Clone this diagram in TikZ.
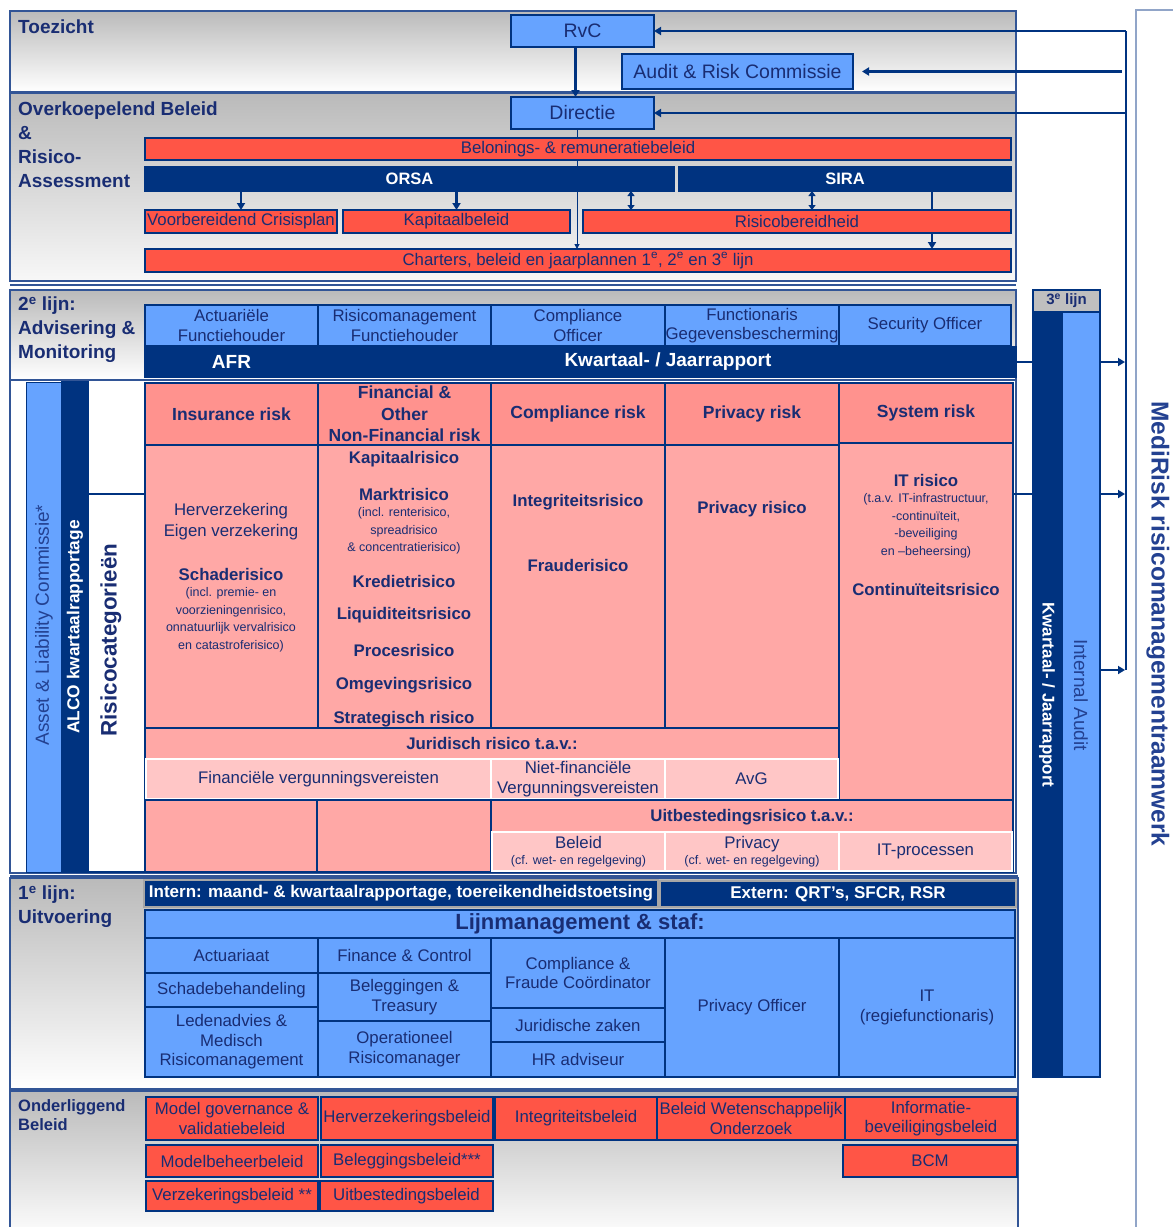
\documentclass[tikz,border=0pt]{standalone}
\usepackage{fontspec}
\setmainfont{Liberation Sans}
\usetikzlibrary{arrows.meta}
\definecolor{navy}{RGB}{0,51,128}
\definecolor{blu}{RGB}{102,163,255}
\definecolor{redc}{RGB}{255,85,70}
\definecolor{salmon}{RGB}{255,146,142}
\definecolor{pinkc}{RGB}{255,168,166}
\definecolor{lpink}{RGB}{255,198,198}
\definecolor{txt}{RGB}{25,45,115}
\definecolor{rtxt}{RGB}{35,65,145}
\definecolor{secl}{RGB}{50,85,150}
\definecolor{framec}{RGB}{145,165,200}
\newcommand\fReg{\fontsize{16.8}{19.5}\selectfont}
\newcommand\fSml{\fontsize{12.5}{17.5}\selectfont}
\newcommand\fBld{\bfseries\fontsize{16.8}{21}\selectfont}
\newcommand\fHdr{\bfseries\fontsize{17.5}{21.5}\selectfont}
\newcommand\fSec{\bfseries\fontsize{19}{24}\selectfont}
\newcommand\fSecS{\bfseries\fontsize{16.5}{19}\selectfont}
\newcommand\fBig{\fontsize{19.5}{22}\selectfont}
\newcommand\fBigB{\bfseries\fontsize{19}{22}\selectfont}
\newcommand\fLijn{\bfseries\fontsize{22}{24}\selectfont}
\newcommand\fBar{\bfseries\fontsize{17}{19}\selectfont}
\newcommand\bx[7]{\node[#1,minimum width={#5-#3},minimum height={#6-#4}] (#2) at ({(#3+#5)/2},{(#4+#6)/2}) {#7};}
\tikzset{
 base/.style={draw=navy, line width=1.1pt, inner sep=0pt, outer sep=0pt, align=center, text=txt, font=\fReg},
 redb/.style={base, fill=redc},
 blueb/.style={base, fill=blu},
 navyb/.style={base, fill=navy, text=white, font=\fBar},
 hdr/.style={base, fill=salmon, font=\fHdr},
 cell/.style={base, fill=pinkc},
 subc/.style={draw=white, line width=1.5pt, fill=lpink, inner sep=0pt, outer sep=0pt, align=center, text=txt, font=\fReg},
 lbl/.style={anchor=north west, align=left, text=txt, font=\fSec, inner sep=0pt},
 ct/.style={text=txt, inner sep=0pt, align=center},
 arr/.style={draw=navy, line width=2.2pt, -{Triangle[length=7pt,width=8pt]}},
 dbl/.style={draw=navy, line width=2pt, {Triangle[length=5pt,width=7pt]}-{Triangle[length=5pt,width=7pt]}},
 thinarr/.style={draw=navy, line width=1pt, -{Triangle[length=5pt,width=5pt]}},
 sect/.style={draw=secl, line width=1.3pt},
}
\begin{document}
\begin{tikzpicture}[x=1pt,y=-1pt]
\useasboundingbox (0,0) rectangle (1173,1227);
\fill[white] (0,0) rectangle (1173,1227);
% ---------- section backgrounds ----------
\shade[top color=black!27, bottom color=white] (10,11) rectangle (1016,92);
\draw[sect] (10,11) rectangle (1016,92);
\shade[top color=black!27, bottom color=black!3] (10,93) rectangle (1016,281);
\draw[sect] (10,93) rectangle (1016,281);
\draw[sect] (10,285) -- (1016,285);
\shade[top color=black!27, bottom color=white] (10,290) rectangle (1016,380);
\draw[sect] (10,290) rectangle (1016,380);
\draw[sect, fill=white] (10,380) rectangle (1016,873);
\draw[sect] (10,876) -- (1018,876);
\shade[top color=black!27, bottom color=white] (10,878) rectangle (1018,1089);
\draw[sect] (10,878) rectangle (1018,1089);
\shade[top color=black!27, bottom color=white] (10,1091) rectangle (1018,1240);
\draw[sect] (10,1240) -- (10,1091) -- (1018,1091) -- (1018,1240);
% MediRisk frame
\draw[framec, line width=2pt] (1136,1240) -- (1136,10) -- (1180,10);
\node[rotate=-90, text=rtxt, font=\bfseries\fontsize{24.5}{26}\selectfont, inner sep=0pt] (medi) at (1158,624) {MediRisk risicomanagementraamwerk};
% ---------- section labels ----------
\node[lbl] (lToe) at (18,20) {Toezicht};
\node[lbl] (lOver) at (18,102) {Overkoepelend Beleid\\\&\\Risico-\\Assessment};
\node[lbl] (l2) at (18,297) {2\textsuperscript{e} lijn:\\Advisering \&\\Monitoring};
\node[lbl] (l1) at (18,886) {1\textsuperscript{e} lijn:\\Uitvoering};
\node[lbl, font=\fSecS] (lOnd) at (18,1099) {Onderliggend\\Beleid};
% ---------- connectors behind boxes ----------
\coordinate (dx) at (577,129);
\coordinate (c631) at (631,0);
\coordinate (c812) at (812,0);
\coordinate (c932) at (932,0);
% ---------- top boxes ----------
\bx{blueb,font=\fBig}{rvc}{511}{15}{654}{47}{RvC}
\bx{blueb,font=\fBig}{arc}{622}{54}{853}{89}{Audit \& Risk Commissie}
\bx{blueb,font=\fBig}{dir}{511}{97}{654}{129}{Directie}
\draw[thinarr] (dx) -- (dx |- 0,249);
\bx{redb}{bel}{145}{138}{1011}{160}{Belonings- \& remuneratiebeleid}
\bx{navyb,font=\bfseries\fontsize{16.5}{18}\selectfont}{orsa}{145}{167}{674}{191}{ORSA}
\bx{navyb,font=\bfseries\fontsize{16.5}{18}\selectfont}{sira}{679}{167}{1011}{191}{SIRA}
\bx{redb}{vcp}{145}{210}{337}{233}{Voorbereidend Crisisplan}
\bx{redb}{kap}{343}{210}{570}{233}{Kapitaalbeleid}
\bx{redb}{rb}{583}{210}{1011}{233}{Risicobereidheid}
\bx{redb}{ch}{145}{249}{1011}{272}{Charters, beleid en jaarplannen 1\textsuperscript{e}, 2\textsuperscript{e} en 3\textsuperscript{e} lijn}
\draw[arr] ([xshift=-7pt]rvc.south) -- ([xshift=-7pt]dir.north);
\draw[arr] (orsa.south -| vcp.north) -- (vcp.north);
\draw[arr] (orsa.south -| kap.north) -- (kap.north);
\draw[dbl] (orsa.south -| c631) -- (rb.north -| c631);
\draw[dbl] (sira.south -| c812) -- (rb.north -| c812);
\draw[navy, line width=2.2pt] (sira.south -| c932) -- (rb.north -| c932);
\draw[arr] (rb.south -| c932) -- (ch.north -| c932);
% ---------- 2e lijn ----------
\bx{blueb}{afh}{145}{305}{318}{346}{Actuariële\\Functiehouder}
\bx{blueb}{rfh}{318}{305}{491}{346}{Risicomanagement\\Functiehouder}
\bx{blueb}{co}{491}{305}{665}{346}{Compliance\\Officer}
\bx{blueb}{fg}{665}{305}{839}{346}{Functionaris\\Gegevensbescherming}
\bx{blueb}{so}{839}{305}{1011}{346}{Security Officer}
\bx{navyb,font=\fBigB}{afr}{145}{347}{318}{377}{AFR}
\bx{navyb,font=\fBigB}{kjr}{320}{347}{1016}{377}{Kwartaal- / Jaarrapport}
% ---------- risk area ----------
\bx{base,fill=blu,line width=0.8pt}{alc}{26}{382}{62}{872}{}
\bx{base,fill=navy}{alco}{62}{382}{88}{872}{}
\bx{base,fill=white}{rcat}{88}{494}{145}{872}{}
\node[rotate=90, text=rtxt, font=\fontsize{19}{21}\selectfont, inner sep=0pt] (alcT) at (44,625) {Asset \& Liability Commissie*};
\node[rotate=90, text=white, font=\bfseries\fontsize{17.3}{19}\selectfont, inner sep=0pt] (alcoT) at (75,627) {ALCO kwartaalrapportage};
\node[rotate=90, text=txt, font=\bfseries\fontsize{22.4}{24}\selectfont, inner sep=0pt] (rcatT) at (111,640) {Risicocategorieën};
\bx{hdr}{ins}{145}{383}{318}{445}{Insurance risk}
\bx{hdr}{fin}{318}{383}{491}{445}{Financial \&\\Other\\Non-Financial risk}
\bx{hdr}{cmp}{491}{383}{665}{445}{Compliance risk}
\bx{hdr}{prv}{665}{383}{839}{445}{Privacy risk}
\bx{hdr}{sys}{839}{383}{1013}{443}{System risk}
\bx{cell}{insc}{145}{445}{318}{728}{}
\bx{cell}{finc}{318}{445}{491}{728}{}
\bx{cell}{cmpc}{491}{445}{665}{728}{}
\bx{cell}{prvc}{665}{445}{839}{728}{}
\bx{cell}{sysc}{839}{443}{1013}{800}{}
\bx{cell}{jur}{145}{728}{839}{800}{}
\bx{subc}{jfin}{146}{759}{491}{799}{Financiële vergunningsvereisten}
\bx{subc}{jnf}{491}{759}{665}{799}{Niet-financiële\\Vergunningsvereisten}
\bx{subc}{javg}{665}{759}{838}{799}{AvG}
\node[ct,font=\fBld] (jurT) at (492,743) {Juridisch risico t.a.v.:};
\bx{cell}{e1}{145}{800}{317}{872}{}
\bx{cell}{e2}{317}{800}{491}{872}{}
\bx{cell}{uit}{491}{800}{1013}{872}{}
\node[ct,font=\fBld] (uitT) at (752,817) {Uitbestedingsrisico t.a.v.:};
\bx{subc}{ub}{492}{832}{665}{871}{Beleid\\[-3pt]{\fSml(cf. wet- en regelgeving)}}
\bx{subc}{up}{665}{832}{839}{871}{Privacy\\[-3pt]{\fSml(cf. wet- en regelgeving)}}
\bx{subc}{uit2}{839}{832}{1012}{871}{IT-processen}
% insurance column
\node[ct,font=\fReg] (herv) at (231,511) {Herverzekering};
\node[ct,font=\fReg] (eigen) at (231,532) {Eigen verzekering};
\node[ct,font=\fBld] (schr) at (231,574) {Schaderisico};
\node[ct,font=\fSml] (schs) at (231,620) {(incl. premie- en\\voorzieningenrisico,\\onnatuurlijk vervalrisico\\en catastroferisico)};
% financial column
\node[ct,font=\fBld] (kapr) at (404,459) {Kapitaalrisico};
\node[ct,font=\fBld] (mark) at (404,494) {Marktrisico};
\node[ct,font=\fSml] (marks) at (404,531) {(incl. renterisico,\\spreadrisico\\\& concentratierisico)};
\node[ct,font=\fBld] (kred) at (404,581) {Kredietrisico};
\node[ct,font=\fBld] (liq) at (404,615) {Liquiditeitsrisico};
\node[ct,font=\fBld] (proc) at (404,650) {Procesrisico};
\node[ct,font=\fBld] (omg) at (404,685) {Omgevingsrisico};
\node[ct,font=\fBld] (strat) at (404,719) {Strategisch risico};
% compliance / privacy / system
\node[ct,font=\fBld] (integ) at (578,502) {Integriteitsrisico};
\node[ct,font=\fBld] (fraud) at (578,565) {Frauderisico};
\node[ct,font=\fBld] (privr) at (752,509) {Privacy risico};
\node[ct,font=\fBld] (itr) at (926,480) {IT risico};
\node[ct,font=\fSml] (itrs) at (926,526) {(t.a.v. IT-infrastructuur,\\-continuïteit,\\-beveiliging\\en –beheersing)};
\node[ct,font=\fBld] (cont) at (926,589) {Continuïteitsrisico};
% ---------- 1e lijn ----------
\bx{navyb,draw=black!35,line width=1.5pt}{intern}{144}{880}{658}{907}{Intern: maand- \& kwartaalrapportage, toereikendheidstoetsing}
\bx{navyb,draw=black!35,line width=1.5pt}{extern}{660}{881}{1016}{907}{Extern: QRT's, SFCR, RSR}
\bx{blueb,font=\fLijn}{lijn}{145}{910}{1015}{938}{Lijnmanagement \& staf:}
\bx{blueb}{act}{145}{938}{318}{973}{Actuariaat}
\bx{blueb}{schb}{145}{973}{318}{1007}{Schadebehandeling}
\bx{blueb}{led}{145}{1007}{318}{1077}{Ledenadvies \&\\Medisch\\Risicomanagement}
\bx{blueb}{fc}{318}{938}{491}{973}{Finance \& Control}
\bx{blueb}{bt}{318}{973}{491}{1021}{Beleggingen \&\\Treasury}
\bx{blueb}{opr}{318}{1021}{491}{1077}{Operationeel\\Risicomanager}
\bx{blueb}{cf}{491}{938}{665}{1008}{Compliance \&\\Fraude Coördinator}
\bx{blueb}{jz}{491}{1008}{665}{1042}{Juridische zaken}
\bx{blueb}{hr}{491}{1042}{665}{1077}{HR adviseur}
\bx{blueb}{po}{665}{938}{839}{1077}{Privacy Officer}
\bx{blueb}{it}{839}{938}{1015}{1077}{IT\\(regiefunctionaris)}
% ---------- onderliggend beleid ----------
\bx{redb}{mg}{146}{1097}{318}{1140}{Model governance \&\\validatiebeleid}
\bx{redb}{hvb}{321}{1097}{493}{1140}{Herverzekeringsbeleid}
\bx{redb}{ib}{495}{1097}{657}{1140}{Integriteitsbeleid}
\bx{redb}{bwo}{657}{1097}{845}{1140}{Beleid Wetenschappelijk\\Onderzoek}
\bx{redb}{ibb}{845}{1097}{1017}{1140}{Informatie-\\beveiligingsbeleid}
\bx{redb}{mbb}{146}{1145}{318}{1177}{Modelbeheerbeleid}
\bx{redb}{bgb}{321}{1145}{493}{1177}{Beleggingsbeleid***}
\bx{redb}{bcm}{843}{1145}{1017}{1177}{BCM}
\bx{redb}{vzb}{146}{1181}{318}{1211}{Verzekeringsbeleid **}
\bx{redb}{ubb}{320}{1181}{493}{1211}{Uitbestedingsbeleid}
% ---------- 3e lijn ----------
\bx{base,fill=black!25,font=\bfseries\fontsize{15}{17}\selectfont}{l3h}{1033}{290}{1100}{312}{3\textsuperscript{e} lijn}
\bx{base,fill=navy}{l3n}{1033}{312}{1062}{1077}{}
\bx{base,fill=blu}{l3b}{1062}{312}{1100}{1077}{}
\node[rotate=-90, text=white, font=\bfseries\fontsize{17}{19}\selectfont, inner sep=0pt] (l3nT) at (1047,695) {Kwartaal- / Jaarrapport};
\node[rotate=-90, text=rtxt, font=\fontsize{19}{21}\selectfont, inner sep=0pt] (l3bT) at (1081,695) {Internal Audit};
% ---------- right-hand connectors ----------
\coordinate (vl) at (1126,0);
\coordinate (y494) at (0,494);
\coordinate (y670) at (0,670);
\draw[navy, line width=1.8pt] (kjr.east) -- (l3n.west |- kjr.east);
\draw[navy, line width=1.8pt] (sysc.east |- y494) -- (l3n.west |- y494);
\draw[arr] (l3b.east |- kjr.east) -- ([xshift=-1pt]vl |- kjr.east);
\draw[arr] (l3b.east |- y494) -- ([xshift=-1pt]vl |- y494);
\draw[arr] (l3b.east |- y670) -- ([xshift=-1pt]vl |- y670);
\draw[navy, line width=2pt] (vl |- y670) -- (vl |- rvc.east);
\draw[arr] (vl |- rvc.east) -- (rvc.east);
\draw[arr] ([xshift=-4pt]vl |- arc.east) -- ([xshift=9pt]arc.east);
\draw[arr] (vl |- dir.east) -- (dir.east);
\end{tikzpicture}
\end{document}
